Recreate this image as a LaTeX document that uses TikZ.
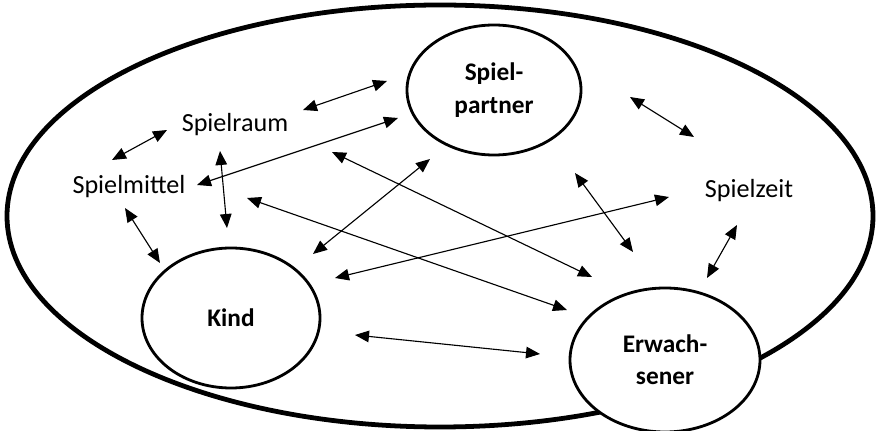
\documentclass[tikz,border=0pt]{standalone}
\usepackage{fontspec}
\setmainfont{Carlito}
\usetikzlibrary{shapes.geometric, arrows.meta}

\begin{document}
\begin{tikzpicture}[
        font=\fontsize{18.6}{23}\selectfont,
        field/.style={ellipse, draw, line width=3.4pt, minimum width=21.65cm, minimum height=10.55cm, inner sep=0pt},
        actor/.style={ellipse, draw, fill=white, line width=2pt, inner sep=0pt, align=center, font=\fontsize{18}{23}\selectfont\bfseries},
        item/.style={inner sep=1pt},
        link/.style={{Triangle[length=0.35cm,width=0.29cm]}-{Triangle[length=0.35cm,width=0.29cm]}, line width=0.8pt}
    ]

            \useasboundingbox (0,0) rectangle (21.925,-10.775);

            % Outer field
            \node[field] (feld) at (11.0,-5.4) {};

            % Actors
            \node[actor, minimum width=4.35cm, minimum height=3.25cm] (partner) at (12.35,-2.25) {Spiel-\\partner};
            \node[actor, minimum width=4.45cm, minimum height=3.5cm] (kind) at (5.775,-7.95) {Kind};
            \node[actor, minimum width=4.75cm, minimum height=3.6cm] (erw) at (16.625,-9.0) {Erwach-\\sener};

            % Conditions
            \node[item] (raum) at (5.875,-3.125) {Spielraum};
            \node[item] (mittel) at (3.225,-4.675) {Spielmittel};
            \node[item] (zeit) at (18.725,-4.775) {Spielzeit};

            % Arrow ends
            \coordinate (raumA) at (7.575,-2.75);   \coordinate (partnerA) at (9.675,-2.025);
            \coordinate (mittelA) at (2.8,-4.0);    \coordinate (raumB) at (4.175,-3.25);
            \coordinate (mittelB) at (4.925,-4.625); \coordinate (partnerB) at (9.95,-2.95);
            \coordinate (raumC) at (5.5,-3.775);    \coordinate (kindA) at (5.675,-5.7);
            \coordinate (mittelC) at (3.125,-5.2);  \coordinate (kindB) at (4.0,-6.575);
            \coordinate (raumD) at (8.3,-3.8);      \coordinate (erwA) at (14.8,-6.925);
            \coordinate (mittelD) at (6.175,-4.95); \coordinate (erwB) at (14.175,-7.75);
            \coordinate (kindC) at (8.875,-8.375);  \coordinate (erwC) at (13.5,-8.85);
            \coordinate (kindD) at (7.825,-6.35);   \coordinate (partnerC) at (10.75,-3.975);
            \coordinate (kindE) at (8.375,-6.95);   \coordinate (zeitA) at (16.725,-4.925);
            \coordinate (partnerD) at (14.375,-4.325); \coordinate (erwD) at (15.825,-6.3);
            \coordinate (partnerE) at (15.75,-2.425); \coordinate (zeitB) at (17.35,-3.425);
            \coordinate (zeitC) at (18.425,-5.625); \coordinate (erwE) at (17.675,-6.95);

            % Relations
            \draw[link] (raumA) -- (partnerA);
            \draw[link] (mittelA) -- (raumB);
            \draw[link] (mittelB) -- (partnerB);
            \draw[link] (raumC) -- (kindA);
            \draw[link] (mittelC) -- (kindB);
            \draw[link] (raumD) -- (erwA);
            \draw[link] (mittelD) -- (erwB);
            \draw[link] (kindC) -- (erwC);
            \draw[link] (kindD) -- (partnerC);
            \draw[link] (kindE) -- (zeitA);
            \draw[link] (partnerD) -- (erwD);
            \draw[link] (partnerE) -- (zeitB);
            \draw[link] (zeitC) -- (erwE);

        \end{tikzpicture}
\end{document}
